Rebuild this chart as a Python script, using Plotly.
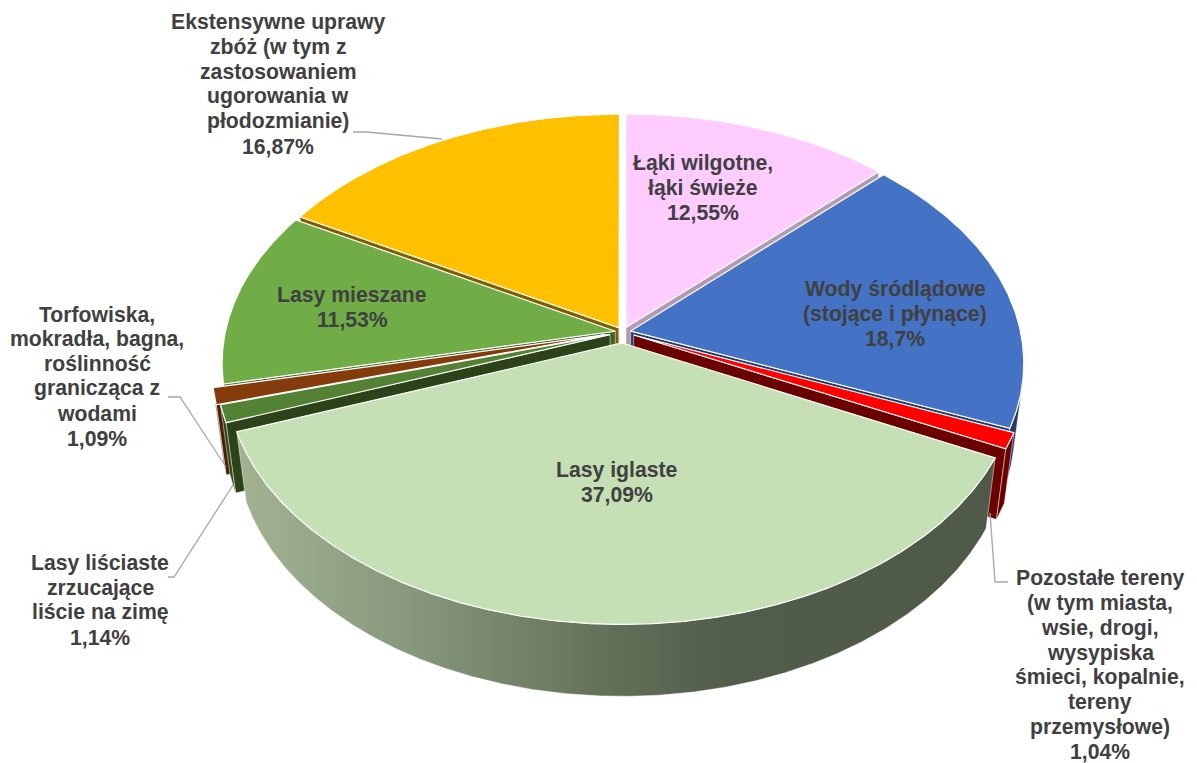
import numpy as np
import plotly.graph_objects as go

# ---------------- data ----------------
categories = [
    "Łąki wilgotne, łąki świeże",
    "Wody śródlądowe (stojące i płynące)",
    "Pozostałe tereny (w tym miasta, wsie, drogi, wysypiska śmieci, kopalnie, tereny przemysłowe)",
    "Lasy iglaste",
    "Lasy liściaste zrzucające liście na zimę",
    "Torfowiska, mokradła, bagna, roślinność granicząca z wodami",
    "Lasy mieszane",
    "Ekstensywne uprawy zbóż (w tym z zastosowaniem ugorowania w płodozmianie)",
]
values = [12.55, 18.7, 1.04, 37.09, 1.14, 1.09, 11.53, 16.87]
value_labels = ["12,55%", "18,7%", "1,04%", "37,09%", "1,14%", "1,09%", "11,53%", "16,87%"]
label_lines = [
    ["Łąki wilgotne,", "łąki świeże"],
    ["Wody śródlądowe", "(stojące i płynące)"],
    ["Pozostałe tereny", "(w tym miasta,", "wsie, drogi,", "wysypiska", "śmieci, kopalnie,", "tereny", "przemysłowe)"],
    ["Lasy iglaste"],
    ["Lasy liściaste", "zrzucające", "liście na zimę"],
    ["Torfowiska,", "mokradła, bagna,", "roślinność", "granicząca z", "wodami"],
    ["Lasy mieszane"],
    ["Ekstensywne uprawy", "zbóż (w tym z", "zastosowaniem", "ugorowania w", "płodozmianie)"],
]

# ---------------- style ----------------
top_colors = ["#FFCCFF", "#4472C4", "#FF0000", "#C5E0B4", "#548235", "#843C0C", "#70AD47", "#FFC000"]
side_colors = ["#B399B3", "#22396A", "#6B0000", "#56624E", "#2C4219", "#4A2108", "#3F6326", "#7F6000"]
explode = [0.02, 0.02, 0.03, 0.045, 0.035, 0.045, 0.02, 0.02]
label_pos = [(703, 188), (895, 314), (1100, 665), (617, 482), (100, 600), (97, 376), (352, 307), (278, 84)]
LINE_H = 24.8
TEXT_COLOR = "#404040"
FONT = "Arial, Liberation Sans, sans-serif"
FONT_SIZE = 21.2

W, H_PX = 1197, 763
CX, CY = 623, 332
SCALE = 390.0
D = 6.1
ALPHA = np.radians(38.4)
DEPTH = 0.232
F = SCALE * D
cosA, sinA = np.cos(ALPHA), np.sin(ALPHA)
CAM = np.array([0.0, D * sinA, -D * cosA])


def project(X, Y, Z):
    X = np.asarray(X, float); Y = np.asarray(Y, float); Z = np.asarray(Z, float)
    zc = D + Z * cosA - Y * sinA
    yc = Y * cosA + Z * sinA
    return CX + F * X / zc, CY - F * yc / zc


fig = go.Figure()


def add_poly(xs, ys, color, line_color="white", line_width=0.8, gradient=None):
    xs = list(xs) + [xs[0]]
    ys = list(ys) + [ys[0]]
    kw = dict(x=xs, y=ys, mode="lines", fill="toself",
              line=dict(color=line_color, width=line_width),
              hoverinfo="skip", showlegend=False)
    if gradient is not None:
        kw["fillgradient"] = gradient
    else:
        kw["fillcolor"] = color
    fig.add_trace(go.Scatter(**kw))


total = sum(values)
bounds = np.concatenate([[0], np.cumsum(values)]) / total * 2 * np.pi
slices = []
for i in range(len(values)):
    ts, te = bounds[i], bounds[i + 1]
    tm = 0.5 * (ts + te)
    slices.append((i, ts, te, tm))

order = sorted(slices, key=lambda s: -np.cos(s[3]))

wall_gradient = dict(type="horizontal",
                     colorscale=[[0, "#A3B392"], [0.25, "#84957A"], [0.5, "#626F58"],
                                 [0.65, "#515C4A"], [1, "#4E5948"]])

for i, ts, te, tm in order:
    e = explode[i]
    ox, oz = e * np.sin(tm), e * np.cos(tm)
    # radial faces
    for th, sgn in ((ts, -1), (te, 1)):
        n = sgn * np.array([np.cos(th), 0.0, -np.sin(th)])
        p = np.array([ox, 0.0, oz])
        if np.dot(n, CAM - p) > 0:
            Xs = [ox, ox + np.sin(th), ox + np.sin(th), ox]
            Ys = [0, 0, -DEPTH, -DEPTH]
            Zs = [oz, oz + np.cos(th), oz + np.cos(th), oz]
            sx, sy = project(Xs, Ys, Zs)
            add_poly(sx, sy, side_colors[i], line_width=0.5)
    # outer wall
    nseg = max(4, int((te - ts) / np.radians(0.25)))
    th = np.linspace(ts, te, nseg)
    vis = (-np.sin(th) * ox - 1 - np.cos(th) * (D * cosA + oz)) > 0
    if vis.sum() >= 2:
        tv = th[vis]
        X = ox + np.sin(tv); Z = oz + np.cos(tv)
        tx, ty = project(X, np.zeros_like(X), Z)
        bx, by = project(X, -DEPTH * np.ones_like(X), Z)
        px = np.concatenate([tx, bx[::-1]])
        py = np.concatenate([ty, by[::-1]])
        if i == 3:
            add_poly(px, py, side_colors[i], line_width=0.5, gradient=wall_gradient)
        else:
            add_poly(px, py, side_colors[i], line_width=0.5)
    # top face
    X = np.concatenate([[ox], ox + np.sin(th)])
    Z = np.concatenate([[oz], oz + np.cos(th)])
    sx, sy = project(X, np.zeros_like(X), Z)
    add_poly(sx, sy, top_colors[i], line_width=1.2)

# ---------------- labels ----------------
for i in range(len(values)):
    lines = label_lines[i] + [value_labels[i]]
    x0, yc = label_pos[i]
    n = len(lines)
    for k, txt in enumerate(lines):
        fig.add_annotation(x=x0, y=yc + (k - (n - 1) / 2) * LINE_H, text="<b>" + txt + "</b>",
                           showarrow=False, xanchor="center", yanchor="middle",
                           font=dict(family=FONT, size=FONT_SIZE, color=TEXT_COLOR))

# leader lines
leaders = [
    "M 353 132 L 367 132 L 442 139",
    "M 168 397 L 180 397 L 226 467",
    "M 168 577 L 174 577 L 233 485",
    "M 990 513 L 995 582 L 1008 582",
]
for p in leaders:
    fig.add_shape(type="path", path=p, xref="x", yref="y",
                  line=dict(color="#A6A6A6", width=1.3))

fig.update_layout(
    width=W, height=H_PX,
    margin=dict(l=0, r=0, t=0, b=0),
    paper_bgcolor="white", plot_bgcolor="white",
    xaxis=dict(range=[0, W], visible=False, fixedrange=True),
    yaxis=dict(range=[H_PX, 0], visible=False, fixedrange=True),
    showlegend=False,
)
fig.write_html("out.html", config={"displayModeBar": False},
               post_script="document.body.style.margin='0';document.body.style.overflow='hidden';")
